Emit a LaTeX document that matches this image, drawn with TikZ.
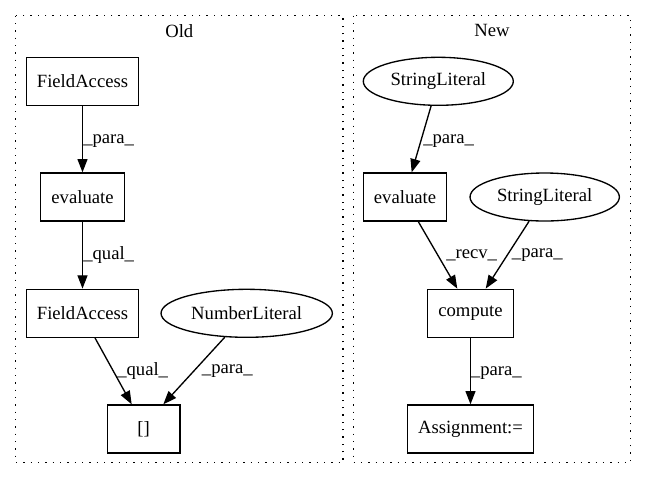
\documentclass[tikz,border=0pt]{standalone}
\usepackage{fontspec}
\setmainfont{Liberation Serif}
\usetikzlibrary{arrows.meta,shapes.geometric}
\begin{document}
\begin{tikzpicture}[x=0.75pt,y=-0.75pt,
  font=\fontsize{14}{16}\selectfont,
  cluster/.style={draw=black,line width=1pt,dash pattern=on 1pt off 4.5pt},
  box/.style={draw=black,line width=1pt,rectangle,inner sep=0pt,minimum height=36pt},
  oval/.style={draw=black,line width=1pt,ellipse,inner sep=0pt,minimum height=36pt},
  edge/.style={draw=black,line width=1pt,-{Triangle[length=10pt,width=7.5pt]}},
  elabel/.style={inner sep=0pt,anchor=west}]
\useasboundingbox (0,0) rectangle (647,480);
% clusters
\draw[cluster] (15.7,15.7) rectangle (343,462.7);
\draw[cluster] (353.3,15.7) rectangle (630.7,462.7);
\node (oldlbl) at (179.3,30.7) {Old};
\node (newlbl) at (492,30.7) {New};
% Old
\node[box,minimum width=83.8pt] (fa1) at (82.5,81.3) {FieldAccess};
\node[box,minimum width=62.8pt] (ev1) at (82.5,197) {evaluate};
\node[box,minimum width=83.8pt] (fa2) at (82.5,313.3) {FieldAccess};
\node[oval,minimum width=128.5pt] (nl) at (246.7,313.3) {NumberLiteral};
\node[box,minimum width=54.5pt] (br) at (143.7,429) {[]};
% New
\node[oval,minimum width=112.5pt] (sl1) at (438.3,81.3) {StringLiteral};
\node[box,minimum width=62.5pt] (ev2) at (405,197) {evaluate};
\node[oval,minimum width=112pt] (sl2) at (544.7,197) {StringLiteral};
\node[box,minimum width=64.3pt] (cmp) at (470.5,313.3) {compute};
\node[box,minimum width=94.3pt] (asg) at (470.5,429) {Assignment:=};
% edges Old
\draw[edge] (fa1) -- (ev1);
\draw[edge] (ev1) -- (fa2);
\draw[edge] ([xshift=9.4pt]fa2.south) -- ([xshift=-9pt]br.north);
\draw[edge] (nl) -- ([xshift=14.7pt]br.north);
% edges New
\draw[edge] (sl1) -- ([xshift=5pt]ev2.north);
\draw[edge] ([xshift=10pt]ev2.south) -- ([xshift=-9.9pt]cmp.north);
\draw[edge] (sl2) -- ([xshift=11.4pt]cmp.north);
\draw[edge] (cmp) -- (asg);
% labels
\node[elabel] (l1) at (83,141.5) {\_para\_};
\node[elabel] (l2) at (83,255.5) {\_qual\_};
\node[elabel] (l3) at (117,371.5) {\_qual\_};
\node[elabel] (l4) at (201.7,371.5) {\_para\_};
\node[elabel] (l5) at (423,141.5) {\_para\_};
\node[elabel] (l6) at (446,255.5) {\_recv\_};
\node[elabel] (l7) at (511.7,255.5) {\_para\_};
\node[elabel] (l8) at (470.7,373.5) {\_para\_};
\end{tikzpicture}
\end{document}
